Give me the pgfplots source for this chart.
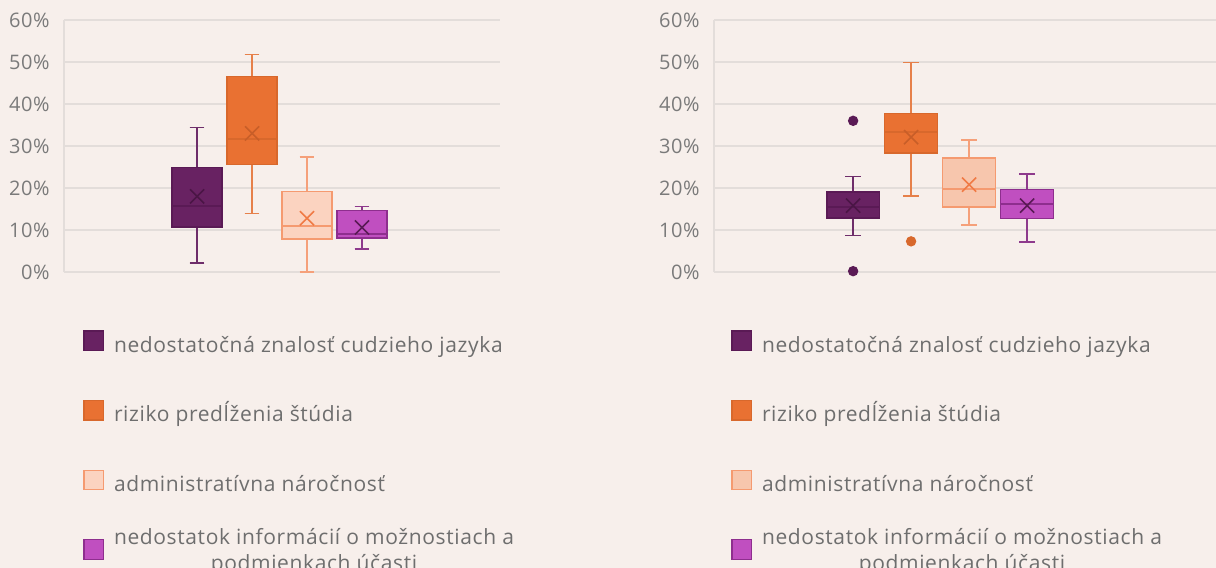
\documentclass[border=0pt]{standalone}
\usepackage{pgfplots}
\pgfplotsset{compat=1.18}
\usepgfplotslibrary{statistics}
\usepackage{fontspec}
\setmainfont[LetterSpace=3]{Open Sans}
\definecolor{bg}{HTML}{F7EFEB}
\definecolor{gridc}{HTML}{E3DDDA}
\definecolor{tickc}{HTML}{7A7A7A}
\definecolor{legc}{HTML}{6E6E6E}
\definecolor{purF}{HTML}{682262}
\definecolor{purD}{HTML}{5A1A55}
\definecolor{purW}{HTML}{6E2D6A}
\definecolor{purM}{HTML}{4A1545}
\definecolor{oraF}{HTML}{E97132}
\definecolor{oraD}{HTML}{D8682C}
\definecolor{oraW}{HTML}{E6804A}
\definecolor{oraM}{HTML}{C85E28}
\definecolor{peaF}{HTML}{FBD3C0}
\definecolor{peaF2}{HTML}{F7C6AD}
\definecolor{peaD}{HTML}{F59A70}
\definecolor{peaW}{HTML}{F5A07A}
\definecolor{peaM}{HTML}{F07A45}
\definecolor{magF}{HTML}{C04FC0}
\definecolor{magD}{HTML}{8E2E8E}
\definecolor{magW}{HTML}{8E3A8C}
\definecolor{magM}{HTML}{5A1A55}
\pgfplotsset{
  chartbase/.style={
    scale only axis,
    height=126bp,
    ymin=0, ymax=60,
    ytick={0,10,...,60},
    yticklabel={\pgfmathprintnumber{\tick}\%},
    /pgf/number format/assume math mode=true,
    xtick=\empty,
    major tick length=0pt,
    axis lines=left,
    axis line style={-, draw=gridc, line width=0.6bp},
    ymajorgrids,
    grid style={draw=gridc, line width=0.7bp},
    y tick label style={font=\fontsize{10bp}{12bp}\selectfont, text=tickc, inner sep=0pt, xshift=-7bp},
    clip=false,
    boxplot/draw direction=y,
    boxplot/box extend=0.91,
    boxplot/whisker extend=0.27,
    legend cell align=left,
    legend style={draw=none, fill=none, inner sep=0pt, anchor=north west,
      row sep=21.6bp,
      font=\fontsize{10.5bp}{13bp}\selectfont,
      text=legc,
      nodes={inner sep=0pt, text height=10bp, text depth=2.4bp},
      /tikz/every odd column/.append style={column sep=5bp}},
    legend image code/.code={\path[##1, draw=none] (0bp,-3.3bp) rectangle (10.3bp,7bp);
       \draw[##1, fill=none, mark=none, line width=0.6bp] (0.3bp,-3bp) rectangle (10bp,6.7bp);},
  },
  bx/.style n args={3}{solid, fill=#1, draw=#2, line width=0.75bp,
      mark=*, mark size=2.2bp, mark options={fill=#2, draw=#2},
      boxplot/every whisker/.style={draw=#3, line width=0.75bp},
      boxplot/every median/.style={draw=#2, line width=0.9bp}},
  avg/.style={forget plot, only marks, mark=x, mark size=5bp,
      mark options={draw=#1, line width=0.8bp}},
}
\newcommand{\twoline}{\raisebox{1.5bp}{\begin{tabular}{@{}c@{}}nedostatok informácií o možnostiach a\\ podmienkach účasti\end{tabular}}}
\begin{document}
\begin{tikzpicture}
\useasboundingbox (0,0) rectangle (608bp,284bp);
\fill[bg] (0,0) rectangle (608bp,284bp);
% ---------------- left chart ----------------
\begin{axis}[chartbase, at={(32bp,148bp)}, anchor=south west, width=218bp,
  xmin=-1.42, xmax=6.51,
  legend style={at={(0.0436,-0.2302)}}]
\addplot+[bx={purF}{purD}{purW}, boxplot prepared={draw position=1,
  lower whisker=2.1, lower quartile=10.7, median=15.8, upper quartile=24.9, upper whisker=34.4}]
  coordinates {};
\addlegendentry{nedostatočná znalosť cudzieho jazyka}
\addplot+[bx={oraF}{oraD}{oraW}, boxplot prepared={draw position=2,
  lower whisker=13.9, lower quartile=25.6, median=31.6, upper quartile=46.6, upper whisker=51.8}]
  coordinates {};
\addlegendentry{riziko predĺženia štúdia}
\addplot+[bx={peaF}{peaD}{peaW}, boxplot prepared={draw position=3,
  lower whisker=0.0, lower quartile=7.8, median=10.9, upper quartile=19.2, upper whisker=27.4}]
  coordinates {};
\addlegendentry{administratívna náročnosť}
\addplot+[bx={magF}{magD}{magW}, boxplot prepared={draw position=4,
  lower whisker=5.5, lower quartile=8.1, median=9.0, upper quartile=14.7, upper whisker=15.6}]
  coordinates {};
\addlegendentry{\twoline}
% means
\addplot[avg=purM] coordinates {(1,18.0)};
\addplot[avg=oraM] coordinates {(2,33.0)};
\addplot[avg=peaM] coordinates {(3,12.8)};
\addplot[avg=magM] coordinates {(4,10.6)};
\end{axis}
% ---------------- right chart ----------------
\begin{axis}[chartbase, at={(357bp,148bp)}, anchor=south west, width=251bp,
  xmin=-1.40, xmax=7.26,
  legend style={at={(0.0339,-0.2302)}}]
\addplot+[bx={purF}{purD}{purW}, boxplot prepared={draw position=1,
  lower whisker=8.7, lower quartile=12.8, median=15.5, upper quartile=19.0, upper whisker=22.7}]
  coordinates {(1,36.0) (1,0.2)};
\addlegendentry{nedostatočná znalosť cudzieho jazyka}
\addplot+[bx={oraF}{oraD}{oraW}, boxplot prepared={draw position=2,
  lower whisker=18.1, lower quartile=28.3, median=33.3, upper quartile=37.7, upper whisker=49.9}]
  coordinates {(2,7.3)};
\addlegendentry{riziko predĺženia štúdia}
\addplot+[bx={peaF2}{peaD}{peaW}, boxplot prepared={draw position=3,
  lower whisker=11.2, lower quartile=15.5, median=19.7, upper quartile=27.2, upper whisker=31.4}]
  coordinates {};
\addlegendentry{administratívna náročnosť}
\addplot+[bx={magF}{magD}{magW}, boxplot prepared={draw position=4,
  lower whisker=7.2, lower quartile=12.7, median=16.1, upper quartile=19.6, upper whisker=23.3}]
  coordinates {};
\addlegendentry{\twoline}
% means
\addplot[avg=purM] coordinates {(1,15.8)};
\addplot[avg=oraM] coordinates {(2,32.1)};
\addplot[avg=peaM] coordinates {(3,20.8)};
\addplot[avg=magM] coordinates {(4,15.8)};
\end{axis}
\end{tikzpicture}
\end{document}
